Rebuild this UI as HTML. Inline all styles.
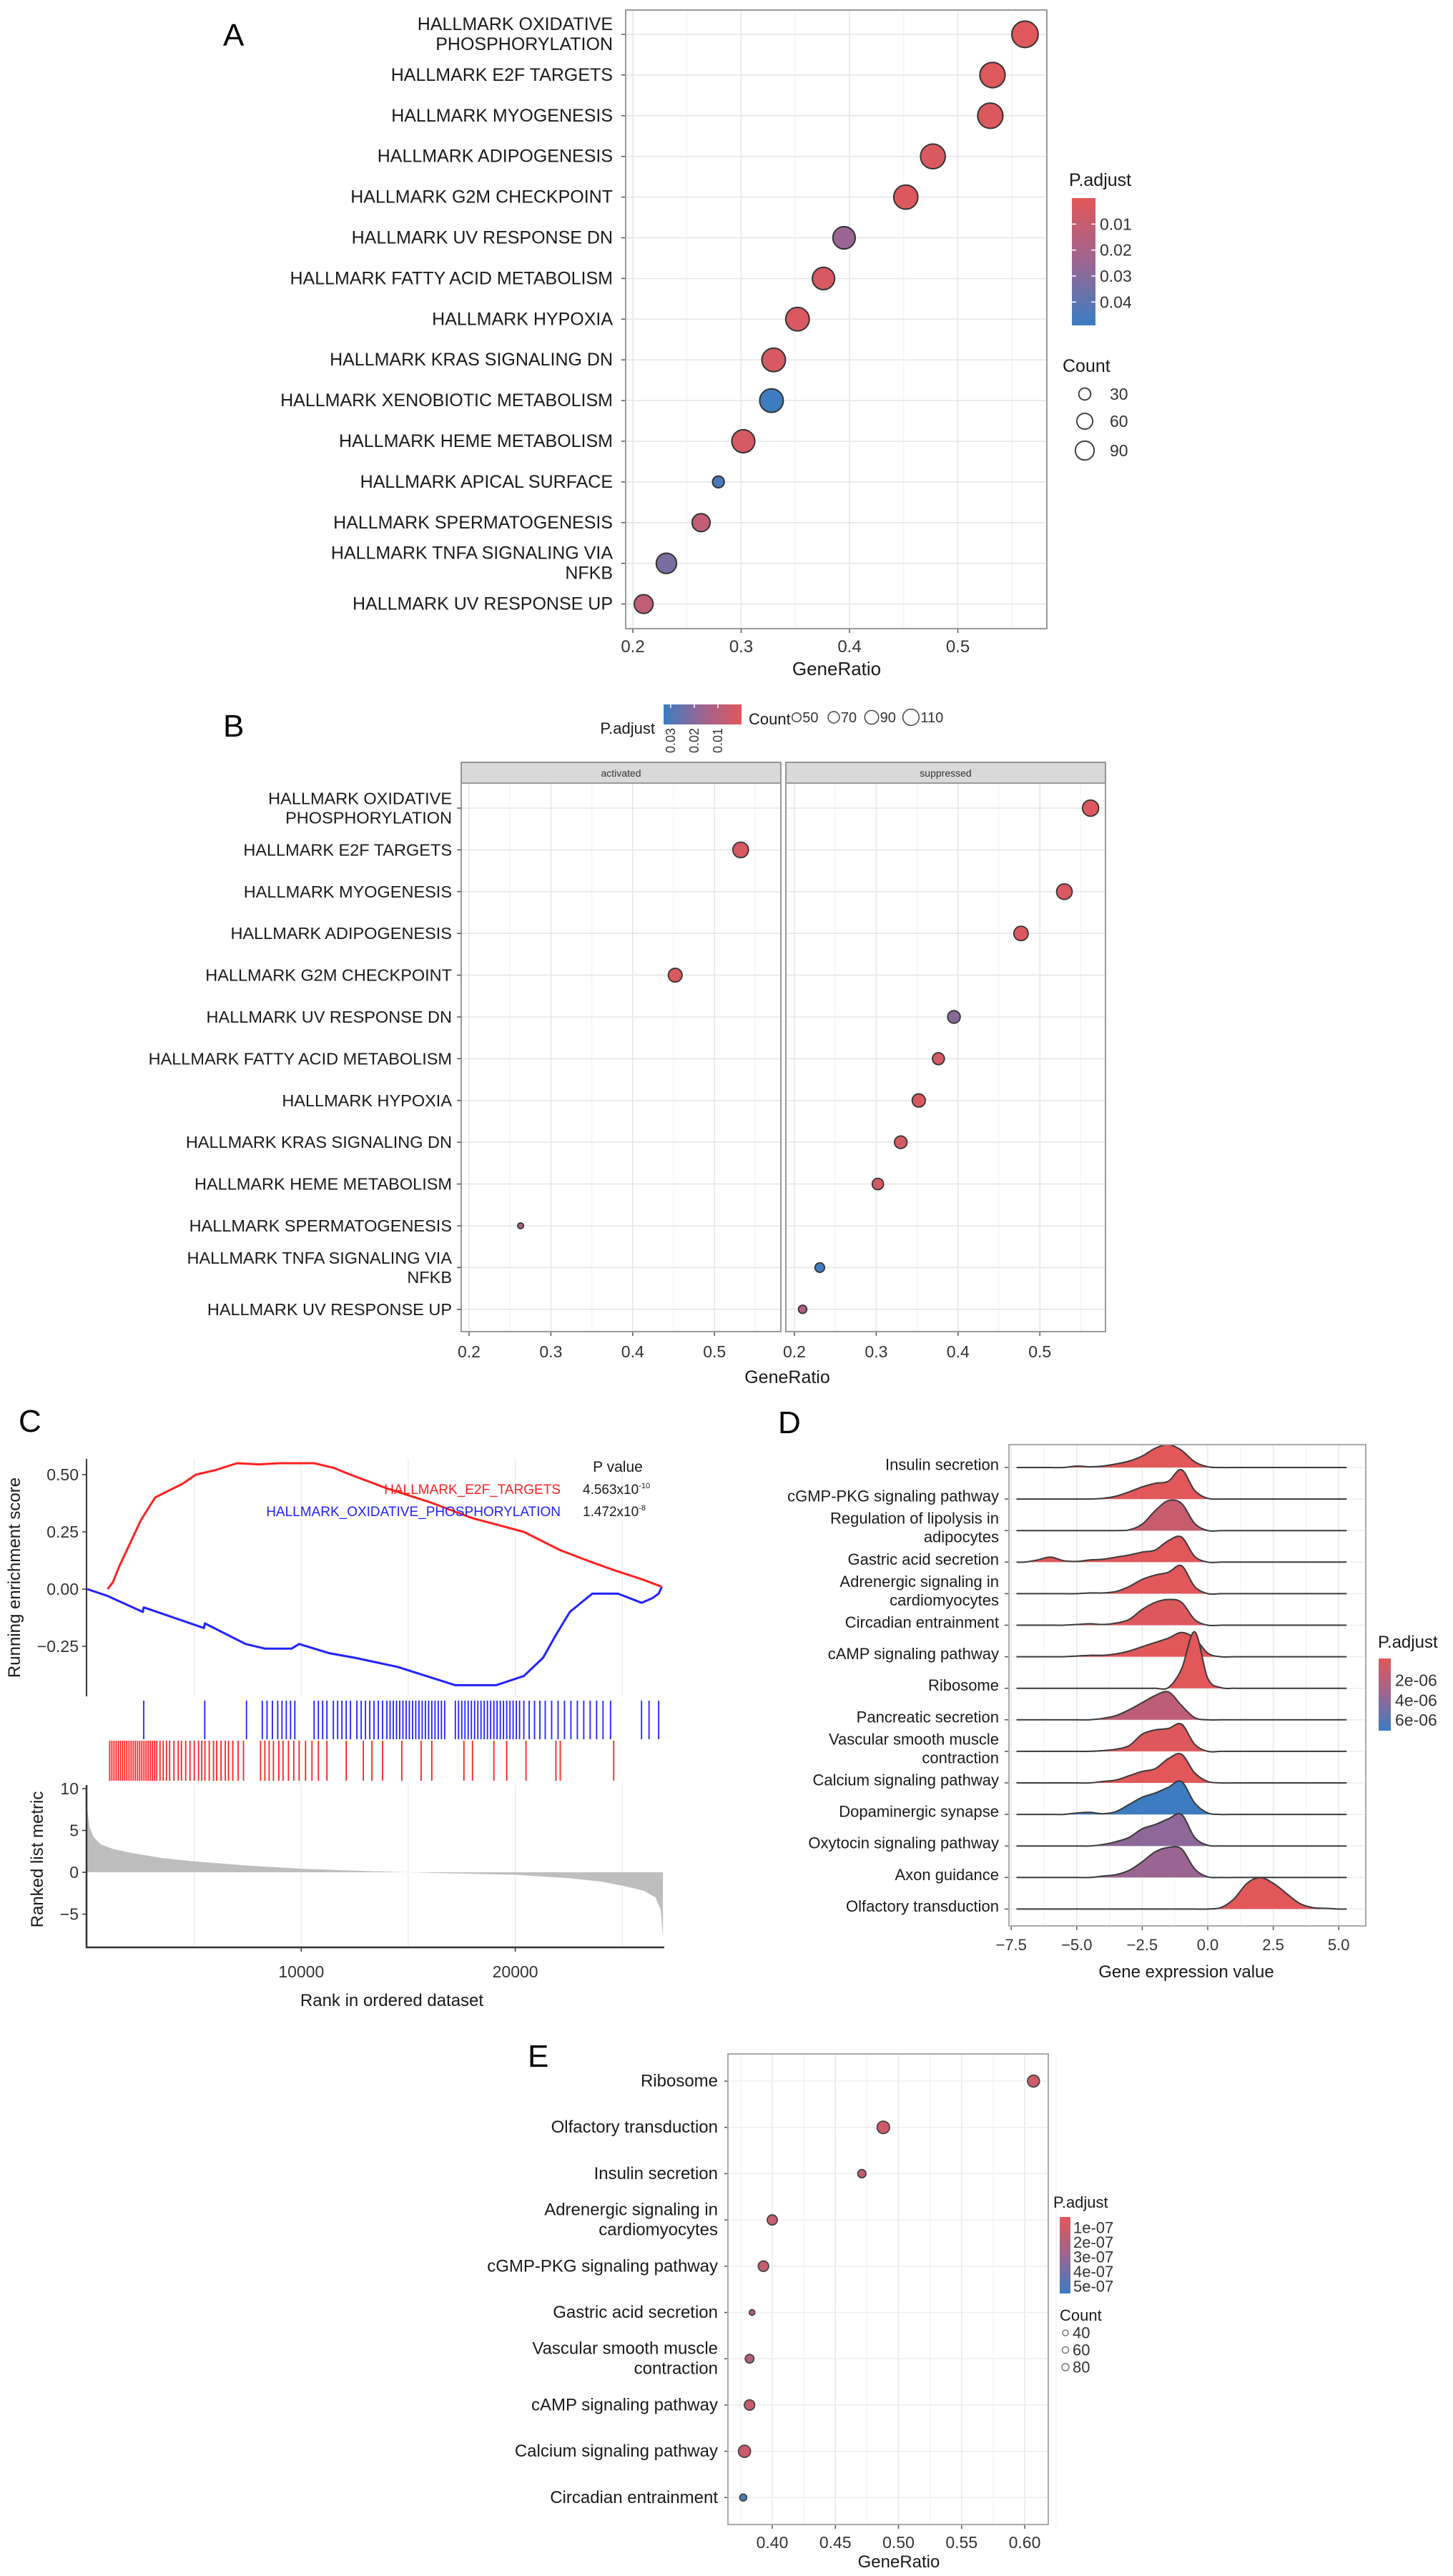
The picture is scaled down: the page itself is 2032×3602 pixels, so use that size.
<!DOCTYPE html>
<html><head><meta charset="utf-8"><title>Enrichment figure</title>
<style>
html,body{margin:0;padding:0;background:#fff;}
svg{display:block;font-family:"Liberation Sans",Arial,sans-serif;}
</style></head>
<body>
<svg id="fig" width="2032" height="3602" viewBox="0 0 2032 3602" xmlns="http://www.w3.org/2000/svg">
<defs>
<linearGradient id="gradV" x1="0" y1="0" x2="0" y2="1"><stop offset="0" stop-color="#E1575A"/><stop offset="0.5" stop-color="#9C6591"/><stop offset="1" stop-color="#3A7DC2"/></linearGradient>
<linearGradient id="gradH" x1="1" y1="0" x2="0" y2="0"><stop offset="0" stop-color="#E1575A"/><stop offset="0.5" stop-color="#9C6591"/><stop offset="1" stop-color="#3A7DC2"/></linearGradient>
</defs>
</svg>
<script>
// ---------- Panel A data ----------
const aTerms = ["HALLMARK OXIDATIVE|PHOSPHORYLATION","HALLMARK E2F TARGETS","HALLMARK MYOGENESIS","HALLMARK ADIPOGENESIS","HALLMARK G2M CHECKPOINT","HALLMARK UV RESPONSE DN","HALLMARK FATTY ACID METABOLISM","HALLMARK HYPOXIA","HALLMARK KRAS SIGNALING DN","HALLMARK XENOBIOTIC METABOLISM","HALLMARK HEME METABOLISM","HALLMARK APICAL SURFACE","HALLMARK SPERMATOGENESIS","HALLMARK TNFA SIGNALING VIA|NFKB","HALLMARK UV RESPONSE UP"];
const aRatio = [0.562,0.532,0.530,0.477,0.452,0.395,0.376,0.352,0.330,0.328,0.302,0.279,0.263,0.231,0.210];
const aCount = [110,100,100,95,90,75,75,85,85,85,80,15,45,60,50];
const aPadj = [0.001,0.001,0.002,0.003,0.002,0.025,0.004,0.003,0.004,0.048,0.004,0.045,0.012,0.033,0.012];
const aTicks = [0.2,0.3,0.4,0.5];
const aPTicks = [0.01,0.02,0.03,0.04];
const aCountLegend = [30,60,90];
// ---------- Panel B data ----------
const bTerms = ["HALLMARK OXIDATIVE|PHOSPHORYLATION","HALLMARK E2F TARGETS","HALLMARK MYOGENESIS","HALLMARK ADIPOGENESIS","HALLMARK G2M CHECKPOINT","HALLMARK UV RESPONSE DN","HALLMARK FATTY ACID METABOLISM","HALLMARK HYPOXIA","HALLMARK KRAS SIGNALING DN","HALLMARK HEME METABOLISM","HALLMARK SPERMATOGENESIS","HALLMARK TNFA SIGNALING VIA|NFKB","HALLMARK UV RESPONSE UP"];
const bGroup = ["suppressed","activated","suppressed","suppressed","activated","suppressed","suppressed","suppressed","suppressed","suppressed","activated","suppressed","suppressed"];
const bRatio = [0.562,0.532,0.530,0.477,0.452,0.395,0.376,0.352,0.330,0.302,0.263,0.231,0.210];
const bCount = [110,105,105,95,90,80,75,85,80,70,25,55,45];
const bPadj = [0.001,0.002,0.002,0.002,0.002,0.020,0.003,0.002,0.003,0.003,0.012,0.032,0.012];
const bTicks = [0.2,0.3,0.4,0.5];
const bPTicks = [0.03,0.02,0.01];
const bCountLegend = [50,70,90,110];
// ---------- Panel C data ----------
const esRedRank = [950,1200,1500,2000,2500,3170,3800,4450,5080,6000,7000,8000,9000,10600,11500,12300,14000,16000,18000,20400,22100,23500,24700,26000,26850];
const esRedVal  = [0,0.03,0.10,0.20,0.30,0.40,0.43,0.46,0.50,0.52,0.55,0.545,0.55,0.55,0.53,0.50,0.44,0.38,0.31,0.25,0.17,0.12,0.08,0.04,0.01];
const esBlueRank = [0,950,2600,2640,5450,5500,7400,8300,9550,9900,11300,12500,14500,17200,19100,20400,21300,21900,22550,23200,23600,24800,25900,26400,26700,26850];
const esBlueVal  = [0,-0.03,-0.10,-0.08,-0.17,-0.15,-0.24,-0.26,-0.26,-0.24,-0.28,-0.30,-0.34,-0.42,-0.42,-0.38,-0.30,-0.20,-0.10,-0.05,-0.02,-0.02,-0.06,-0.04,-0.02,0.01];
const blueHits = [2640,5490,7440,8180,8400,8650,8900,9100,9300,9500,9700,10600,10800,11000,11200,11500,11700,11900,12100,12300,12600,12800,13000,13200,13400,13600,13800,14000,14150,14300,14450,14600,14750,14900,15050,15200,15350,15500,15650,15800,15950,16100,16250,16400,16550,16700,17200,17350,17500,17650,17800,17950,18100,18250,18400,18550,18700,18850,19000,19150,19300,19450,19600,19750,19900,20050,20200,20400,20650,20900,21150,21400,21700,22000,22300,22600,22900,23200,23500,23800,24100,24450,25900,26250,26700];
const redHits = [1050,1150,1250,1350,1450,1550,1650,1750,1850,1950,2050,2150,2250,2350,2450,2550,2650,2750,2850,2950,3050,3150,3250,3400,3550,3700,3850,4050,4250,4400,4600,4800,5000,5200,5350,5500,5700,5900,6050,6250,6450,6600,6800,7050,7300,8100,8300,8500,8700,8950,9150,9400,9650,9900,10200,10500,10800,11200,12100,12900,13300,13800,14700,15600,16100,17600,18000,19000,19600,20500,21900,22100,24600];
const metricRank = [0,100,300,650,1200,2100,3500,5000,7500,10000,12500,15000,17500,20000,22500,24000,25000,26000,26550,26800,26900];
const metricVal  = [7.6,5.5,4.2,3.3,2.8,2.3,1.7,1.3,0.8,0.43,0.2,0,-0.15,-0.3,-0.7,-1.1,-1.6,-2.2,-3,-4.5,-7.9];
const esTicks = [0.50,0.25,0.00,-0.25];
const esTickLabels = ["0.50","0.25","0.00","\u22120.25"];
const metricTicks = [10,5,0,-5];
const metricTickLabels = ["10","5","0","\u22125"];
const rankTicks = [10000,20000];
// ---------- Panel D data ----------
const dTerms = ["Insulin secretion","cGMP-PKG signaling pathway","Regulation of lipolysis in|adipocytes","Gastric acid secretion","Adrenergic signaling in|cardiomyocytes","Circadian entrainment","cAMP signaling pathway","Ribosome","Pancreatic secretion","Vascular smooth muscle|contraction","Calcium signaling pathway","Dopaminergic synapse","Oxytocin signaling pathway","Axon guidance","Olfactory transduction"];
const dPadj = [1e-6,1e-6,2.2e-6,1e-6,1e-6,1.2e-6,1e-6,1e-6,2.6e-6,1.2e-6,1e-6,7.2e-6,4.6e-6,4.2e-6,1e-6];
const dGrid = [-7,-6.5,-6,-5.5,-5,-4.5,-4,-3.5,-3,-2.5,-2,-1.5,-1,-0.5,0,0.5,1,1.5,2,2.5,3,3.5,4,4.5,5];
const dDensity = [
 [0,0,0,0,2,1,2,5,9,16,27,32,24,8,1,0,0,0,0,0,0,0,0,0,0],
 [0,0,0,0,0,0,1,4,10,17,22,25,41,12,1,0,0,0,0,0,0,0,0,0,0],
 [0,0,0,0,0,0,0,0,1,9,28,42,38,10,0,0,0,0,0,0,0,0,0,0,0],
 [0,3,7,2,1,3,4,7,10,14,17,30,35,8,0,0,0,0,0,0,0,0,0,0,0],
 [0,0,0,0,0,1,1,3,10,20,26,30,39,10,0,0,0,0,0,0,0,0,0,0,0],
 [0,0,0,0,1,2,1,3,8,22,32,36,32,8,0,0,0,0,0,0,0,0,0,0,0],
 [0,0,0,0,1,2,2,4,8,14,20,26,34,26,5,0,0,0,0,0,0,0,0,0,0],
 [0,0,0,0,0,0,0,0,0,0,0,1,27,79,14,1,0,0,0,0,0,0,0,0,0],
 [0,0,0,0,0,0,2,6,14,24,34,39,20,3,0,0,0,0,0,0,0,0,0,0,0],
 [0,0,0,0,0,0,1,3,8,24,30,32,38,10,0,0,0,0,0,0,0,0,0,0,0],
 [0,0,0,0,0,0,2,4,10,16,20,34,40,14,2,0,0,0,0,0,0,0,0,0,0],
 [0,0,0,0,2,3,1,4,14,24,30,38,46,16,2,0,0,0,0,0,0,0,0,0,0],
 [0,0,0,0,0,0,2,6,12,24,30,38,44,12,1,0,0,0,0,0,0,0,0,0,0],
 [0,0,0,0,0,0,2,4,10,22,36,42,40,12,1,0,0,0,0,0,0,0,0,0,0],
 [0,0,0,0,0,0,0,0,0,0,0,0,0,0,0,2,14,36,44,36,22,8,2,1,0]
];
const dTicks = [-7.5,-5.0,-2.5,0.0,2.5,5.0];
const dTickLabels = ["\u22127.5","\u22125.0","\u22122.5","0.0","2.5","5.0"];
const dPTicks = [2e-6,4e-6,6e-6];
const dPTickLabels = ["2e-06","4e-06","6e-06"];
// ---------- Panel E data ----------
const eTerms = ["Ribosome","Olfactory transduction","Insulin secretion","Adrenergic signaling in|cardiomyocytes","cGMP-PKG signaling pathway","Gastric acid secretion","Vascular smooth muscle|contraction","cAMP signaling pathway","Calcium signaling pathway","Circadian entrainment"];
const eRatio = [0.607,0.488,0.471,0.400,0.393,0.384,0.382,0.382,0.378,0.377];
const eCount = [76,79,52,64,66,36,55,66,77,45];
const ePadj = [1e-7,1e-7,1.2e-7,1.3e-7,1.3e-7,2e-7,1.8e-7,1.2e-7,1.1e-7,5.2e-7];
const eTicks = [0.40,0.45,0.50,0.55,0.60];
const eTickLabels = ["0.40","0.45","0.50","0.55","0.60"];
const ePTicks = [1e-7,2e-7,3e-7,4e-7,5e-7];
const ePTickLabels = ["1e-07","2e-07","3e-07","4e-07","5e-07"];
const eCountLegend = [40,60,80];

// ---------- helpers ----------
const NS='http://www.w3.org/2000/svg';
const svg=document.getElementById('fig');
function mk(tag,attrs,parent){const e=document.createElementNS(NS,tag);for(const k in attrs)e.setAttribute(k,attrs[k]);(parent||svg).appendChild(e);return e;}
function txt(str,attrs,parent){const e=mk('text',attrs,parent);e.textContent=str;return e;}
function grp(){return mk('g',{});}
const RED=[225,87,90],MID=[156,101,145],BLUE=[58,125,194];
function pcol(t){t=Math.max(0,Math.min(1,t));let a,b,u;if(t<0.5){a=RED;b=MID;u=t/0.5;}else{a=MID;b=BLUE;u=(t-0.5)/0.5;}
 return 'rgb('+a.map((v,i)=>Math.round(v+(b[i]-v)*u)).join(',')+')';}
function smoothPath(pts){let d='M'+pts[0][0]+','+pts[0][1];
 for(let i=0;i<pts.length-1;i++){const p0=pts[Math.max(0,i-1)],p1=pts[i],p2=pts[i+1],p3=pts[Math.min(pts.length-1,i+2)];
  const c1=[p1[0]+(p2[0]-p0[0])/6,p1[1]+(p2[1]-p0[1])/6],c2=[p2[0]-(p3[0]-p1[0])/6,p2[1]-(p3[1]-p1[1])/6];
  d+=' C'+c1[0].toFixed(1)+','+c1[1].toFixed(1)+' '+c2[0].toFixed(1)+','+c2[1].toFixed(1)+' '+p2[0].toFixed(1)+','+p2[1].toFixed(1);}
 return d;}
function multiLabel(g,str,x,y,size,lh,name){const parts=str.split('|');const y0=y-(parts.length-1)*lh/2;
 parts.forEach((p,j)=>{const t=txt(p,{x:x,y:y0+j*lh,'font-size':size,'text-anchor':'end','dominant-baseline':'central',fill:'#1a1a1a'},g);
 
 });}

// ================= PANEL A =================
(function(){
const g=grp();


const L=875,T=14,R=1464,B=879;
const xA=v=>885+(v-0.2)*1515;
const yA=i=>48+i*56.9;
const lab=txt('A',{x:312,y:64,'font-size':44,fill:'#000'},g);


const bg=mk('rect',{x:L,y:T,width:R-L,height:B-T,fill:'#fff'},g);


for(let v=0.25;v<0.6;v+=0.1){const l=mk('line',{x1:xA(v),x2:xA(v),y1:T,y2:B,stroke:'#F3F3F3','stroke-width':1.2},g);

}
aTicks.forEach(v=>{const l=mk('line',{x1:xA(v),x2:xA(v),y1:T,y2:B,stroke:'#E6E6E6','stroke-width':1.6},g);


const t=txt(v.toFixed(1),{x:xA(v),y:912,'font-size':24,'text-anchor':'middle',fill:'#333'},g);


mk('line',{x1:xA(v),x2:xA(v),y1:B,y2:B+6,stroke:'#555','stroke-width':1.5},g);});
aTerms.forEach((term,i)=>{const y=yA(i);
const l=mk('line',{x1:L,x2:R,y1:y,y2:y,stroke:'#E6E6E6','stroke-width':1.6},g);


mk('line',{x1:L-6,x2:L,y1:y,y2:y,stroke:'#555','stroke-width':1.5},g);
multiLabel(g,term,857,y,25,28,'y-axis-term-label');});
mk('rect',{x:L,y:T,width:R-L,height:B-T,fill:'none',stroke:'#999','stroke-width':2},g);
aTerms.forEach((term,i)=>{const c=mk('circle',{cx:xA(aRatio[i]),cy:yA(i),r:2.2+1.55*Math.sqrt(aCount[i]),fill:pcol(aPadj[i]/0.049),stroke:'#333','stroke-width':2},g);

});
const xt=txt('GeneRatio',{x:1170,y:944,'font-size':26,'text-anchor':'middle',fill:'#1a1a1a'},g);


const lt=txt('P.adjust',{x:1495,y:260,'font-size':25,fill:'#1a1a1a'},g);


const cb=mk('rect',{x:1499,y:277,width:33,height:178,fill:'url(#gradV)'},g);


aPTicks.forEach(p=>{const y=277+p/0.049*178;
mk('line',{x1:1499,x2:1505,y1:y,y2:y,stroke:'#fff','stroke-width':1.5},g);
mk('line',{x1:1526,x2:1532,y1:y,y2:y,stroke:'#fff','stroke-width':1.5},g);
const t=txt(p.toFixed(2),{x:1538,y:y,'font-size':23,'dominant-baseline':'central',fill:'#333'},g);

});
const ct=txt('Count',{x:1486,y:520,'font-size':25,fill:'#1a1a1a'},g);


aCountLegend.forEach((c,j)=>{const y=[551,589,630][j];
const k=mk('circle',{cx:1517,cy:y,r:(2.2+1.55*Math.sqrt(c))*0.78,fill:'none',stroke:'#333','stroke-width':1.8},g);


const t=txt(String(c),{x:1552,y:y,'font-size':23,'dominant-baseline':'central',fill:'#333'},g);

});
})();

// ================= PANEL B =================
(function(){
const g=grp();


const T=1095,B=1862;
const panels={activated:{L:645,R:1092,x0:656},suppressed:{L:1099,R:1546,x0:1111}};
const yB=i=>1130+i*58.4;
const lab=txt('B',{x:312,y:1030,'font-size':44,fill:'#000'},g);


const pl=txt('P.adjust',{x:916,y:1026,'font-size':22,'text-anchor':'end',fill:'#1a1a1a'},g);


const cb=mk('rect',{x:928,y:985,width:109,height:28,fill:'url(#gradH)'},g);


bPTicks.forEach(p=>{const x=1037-p/0.033*109;
mk('line',{x1:x,x2:x,y1:985,y2:990,stroke:'#fff','stroke-width':1.5},g);
const t=txt(p.toFixed(2),{x:0,y:0,'font-size':18,'text-anchor':'end','dominant-baseline':'central',fill:'#333',transform:'translate('+x+',1018) rotate(-90)'},g);

});
const ct=txt('Count',{x:1047,y:1013,'font-size':22,fill:'#1a1a1a'},g);


bCountLegend.forEach((c,j)=>{const x=[1114,1166,1219,1274][j];const r=2+0.085*c;
const k=mk('circle',{cx:x,cy:1003,r:r,fill:'none',stroke:'#444','stroke-width':1.5},g);


const t=txt(String(c),{x:x+r+2,y:1004,'font-size':20,'dominant-baseline':'central',fill:'#333'},g);

});
Object.keys(panels).forEach(key=>{const P=panels[key];const xB=v=>P.x0+(v-0.2)*1144;
const st=mk('rect',{x:P.L,y:1066,width:P.R-P.L,height:29,fill:'#D9D9D9',stroke:'#777','stroke-width':1.5},g);


const sl=txt(key,{x:(P.L+P.R)/2,y:1081,'font-size':14,'text-anchor':'middle','dominant-baseline':'central',fill:'#333'},g);


for(let v=0.25;v<0.6;v+=0.1){const l=mk('line',{x1:xB(v),x2:xB(v),y1:T,y2:B,stroke:'#F3F3F3','stroke-width':1.2},g);

}
bTicks.forEach(v=>{const l=mk('line',{x1:xB(v),x2:xB(v),y1:T,y2:B,stroke:'#E6E6E6','stroke-width':1.6},g);


mk('line',{x1:xB(v),x2:xB(v),y1:B,y2:B+6,stroke:'#555','stroke-width':1.5},g);
const t=txt(v.toFixed(1),{x:xB(v),y:1898,'font-size':23,'text-anchor':'middle',fill:'#333'},g);

});
bTerms.forEach((term,i)=>{const l=mk('line',{x1:P.L,x2:P.R,y1:yB(i),y2:yB(i),stroke:'#E6E6E6','stroke-width':1.6},g);

});
mk('rect',{x:P.L,y:T,width:P.R-P.L,height:B-T,fill:'none',stroke:'#999','stroke-width':2},g);
bTerms.forEach((term,i)=>{if(bGroup[i]!==key)return;
const c=mk('circle',{cx:xB(bRatio[i]),cy:yB(i),r:2+0.085*bCount[i],fill:pcol(bPadj[i]/0.033),stroke:'#333','stroke-width':1.8},g);

});});
bTerms.forEach((term,i)=>{mk('line',{x1:639,x2:645,y1:yB(i),y2:yB(i),stroke:'#555','stroke-width':1.5},g);
multiLabel(g,term,632,yB(i),23.5,27,'y-axis-term-label');});
const xt=txt('GeneRatio',{x:1101,y:1934,'font-size':25,'text-anchor':'middle',fill:'#1a1a1a'},g);


})();

// ================= PANEL C =================
(function(){
const g=grp();


const L=121,R=929;
const xr=r=>122+r*0.02993;
const ye=v=>2222-v*320;
const ym=v=>2618-v*11.7;
const lab=txt('C',{x:26,y:2002,'font-size':44,fill:'#000'},g);


[5000,10000,15000,20000,25000].forEach(r=>{
const l1=mk('line',{x1:xr(r),x2:xr(r),y1:2040,y2:2372,stroke:'#EBEBEB','stroke-width':1.4},g);


const l2=mk('line',{x1:xr(r),x2:xr(r),y1:2496,y2:2723,stroke:'#EBEBEB','stroke-width':1.4},g);

});
const ax=mk('line',{x1:L,x2:L,y1:2040,y2:2372,stroke:'#333','stroke-width':2},g);


esTicks.forEach((v,j)=>{mk('line',{x1:L-6,x2:L,y1:ye(v),y2:ye(v),stroke:'#333','stroke-width':1.5},g);
const t=txt(esTickLabels[j],{x:110,y:ye(v),'font-size':23,'text-anchor':'end','dominant-baseline':'central',fill:'#333'},g);

});
const yt=txt('Running enrichment score',{x:0,y:0,'font-size':24,'text-anchor':'middle',fill:'#1a1a1a',transform:'translate(28,2206) rotate(-90)'},g);


function line(rs,vs,color,name){const p=mk('polyline',{points:rs.map((r,i)=>xr(r).toFixed(1)+','+ye(vs[i]).toFixed(1)).join(' '),fill:'none',stroke:color,'stroke-width':3,'stroke-linejoin':'round'},g);

}
line(esBlueRank,esBlueVal,'#2222FF','es-line-oxidative-phosphorylation');
line(esRedRank,esRedVal,'#FF2020','es-line-e2f-targets');
const pv=txt('P value',{x:864,y:2058,'font-size':21,'text-anchor':'middle',fill:'#1a1a1a'},g);


const r1=txt('HALLMARK_E2F_TARGETS',{x:784,y:2089,'font-size':19,'text-anchor':'end',fill:'#FF2020'},g);


const r2=txt('HALLMARK_OXIDATIVE_PHOSPHORYLATION',{x:784,y:2120,'font-size':19,'text-anchor':'end',fill:'#2222FF'},g);


const p1=txt('',{x:815,y:2089,'font-size':19,fill:'#1a1a1a'},g);p1.textContent='4.563x10';


const s1=mk('tspan',{dy:-8,'font-size':11},p1);s1.textContent='-10';
const p2=txt('',{x:815,y:2120,'font-size':19,fill:'#1a1a1a'},g);p2.textContent='1.472x10';


const s2=mk('tspan',{dy:-8,'font-size':11},p2);s2.textContent='-8';
const rug=mk('g',{},g);


blueHits.forEach(r=>{const l=mk('line',{x1:xr(r),x2:xr(r),y1:2378,y2:2432,stroke:'#2222FF','stroke-width':1.8},rug);

});
redHits.forEach(r=>{const l=mk('line',{x1:xr(r),x2:xr(r),y1:2434,y2:2490,stroke:'#FF2020','stroke-width':1.8},rug);

});
let d='M'+xr(metricRank[0])+','+ym(0);
metricRank.forEach((r,i)=>{d+=' L'+xr(r).toFixed(1)+','+ym(metricVal[i]).toFixed(1);});
d+=' L'+xr(metricRank[metricRank.length-1]).toFixed(1)+','+ym(0)+' Z';
const ar=mk('path',{d:d,fill:'#BEBEBE',stroke:'none'},g);


const ax2=mk('path',{d:'M'+L+',2496 L'+L+',2723 L'+R+',2723',fill:'none',stroke:'#333','stroke-width':2.5},g);


metricTicks.forEach((v,j)=>{mk('line',{x1:L-6,x2:L,y1:ym(v),y2:ym(v),stroke:'#333','stroke-width':1.5},g);
const t=txt(metricTickLabels[j],{x:110,y:ym(v),'font-size':23,'text-anchor':'end','dominant-baseline':'central',fill:'#333'},g);

});
rankTicks.forEach(r=>{mk('line',{x1:xr(r),x2:xr(r),y1:2723,y2:2729,stroke:'#333','stroke-width':1.5},g);
const t=txt(String(r),{x:xr(r),y:2765,'font-size':23,'text-anchor':'middle',fill:'#333'},g);

});
const mt=txt('Ranked list metric',{x:0,y:0,'font-size':24,'text-anchor':'middle',fill:'#1a1a1a',transform:'translate(60,2600) rotate(-90)'},g);


const xt=txt('Rank in ordered dataset',{x:548,y:2805,'font-size':24,'text-anchor':'middle',fill:'#1a1a1a'},g);


})();

// ================= PANEL D =================
(function(){
const g=grp();


const L=1411,T=2020,R=1910,B=2693;
const xd=v=>1689+v*36.64;
const yd=i=>2052+i*44.1;
const lab=txt('D',{x:1088,y:2004,'font-size':44,fill:'#000'},g);


for(let v=-6.25;v<5.5;v+=2.5){const l=mk('line',{x1:xd(v),x2:xd(v),y1:T,y2:B,stroke:'#F3F3F3','stroke-width':1.2},g);

}
dTicks.forEach((v,j)=>{const l=mk('line',{x1:xd(v),x2:xd(v),y1:T,y2:B,stroke:'#E8E8E8','stroke-width':1.5},g);


mk('line',{x1:xd(v),x2:xd(v),y1:B,y2:B+6,stroke:'#555','stroke-width':1.5},g);
const t=txt(dTickLabels[j],{x:xd(v),y:2727,'font-size':22,'text-anchor':'middle',fill:'#333'},g);

});
dTerms.forEach((term,i)=>{const y=yd(i);
const l=mk('line',{x1:L,x2:R,y1:y,y2:y,stroke:'#EEEEEE','stroke-width':1.5},g);


mk('line',{x1:L-6,x2:L,y1:y,y2:y,stroke:'#555','stroke-width':1.5},g);
multiLabel(g,term,1397,y-4,22,26,'y-axis-term-label');});
dTerms.forEach((term,i)=>{const y=yd(i);
const pts=[[xd(-7.3),y]];dGrid.forEach((gx,k)=>pts.push([xd(gx),y-dDensity[i][k]]));pts.push([xd(5.3),y]);
const curve=smoothPath(pts);
const f=mk('path',{d:curve+' L'+xd(5.3)+','+y+' L'+xd(-7.3)+','+y+' Z',fill:pcol((dPadj[i]-1e-6)/6.3e-6),stroke:'none'},g);


const o=mk('path',{d:curve,fill:'none',stroke:'#3a3a3a','stroke-width':2},g);

});
mk('rect',{x:L,y:T,width:R-L,height:B-T,fill:'none',stroke:'#AAA','stroke-width':2},g);
const xt=txt('Gene expression value',{x:1659,y:2765,'font-size':24,'text-anchor':'middle',fill:'#1a1a1a'},g);


const lt=txt('P.adjust',{x:1927,y:2304,'font-size':24,fill:'#1a1a1a'},g);


const cb=mk('rect',{x:1928,y:2319,width:17,height:101,fill:'url(#gradV)'},g);


dPTicks.forEach((p,j)=>{const y=2319+p/7.3e-6*101;
const t=txt(dPTickLabels[j],{x:1951,y:y+3,'font-size':23,'dominant-baseline':'central',fill:'#333'},g);

});
})();

// ================= PANEL E =================
(function(){
const g=grp();


const L=1018,T=2872,R=1466,B=3530;
const xE=v=>1080+(v-0.4)*1765;
const yE=i=>2910+i*64.7;
const lab=txt('E',{x:738,y:2890,'font-size':44,fill:'#000'},g);


for(let v=0.375;v<0.63;v+=0.05){const l=mk('line',{x1:xE(v),x2:xE(v),y1:T,y2:B,stroke:'#F3F3F3','stroke-width':1.2},g);

}
eTicks.forEach((v,j)=>{const l=mk('line',{x1:xE(v),x2:xE(v),y1:T,y2:B,stroke:'#E8E8E8','stroke-width':1.5},g);


mk('line',{x1:xE(v),x2:xE(v),y1:B,y2:B+6,stroke:'#555','stroke-width':1.5},g);
const t=txt(eTickLabels[j],{x:xE(v),y:3563,'font-size':23,'text-anchor':'middle',fill:'#333'},g);

});
eTerms.forEach((term,i)=>{const y=yE(i);
const l=mk('line',{x1:L,x2:R,y1:y,y2:y,stroke:'#EEEEEE','stroke-width':1.5},g);


mk('line',{x1:L-5,x2:L,y1:y,y2:y,stroke:'#555','stroke-width':1.5},g);
multiLabel(g,term,1004,y,24,28,'y-axis-term-label');});
mk('rect',{x:L,y:T,width:R-L,height:B-T,fill:'none',stroke:'#AAA','stroke-width':2},g);
eTerms.forEach((term,i)=>{const c=mk('circle',{cx:xE(eRatio[i]),cy:yE(i),r:0.11*eCount[i],fill:pcol((ePadj[i]-0.26e-7)/(5.5e-7-0.26e-7)),stroke:'#444','stroke-width':1.8},g);

});
const xt=txt('GeneRatio',{x:1257,y:3590,'font-size':24,'text-anchor':'middle',fill:'#1a1a1a'},g);


const lt=txt('P.adjust',{x:1473,y:3087,'font-size':22,fill:'#1a1a1a'},g);


const cb=mk('rect',{x:1482,y:3100,width:15,height:107,fill:'url(#gradV)'},g);


ePTicks.forEach((p,j)=>{const y=3100+(p-0.26e-7)/(5.5e-7-0.26e-7)*107;
const t=txt(ePTickLabels[j],{x:1501,y:y,'font-size':22,'dominant-baseline':'central',fill:'#333'},g);

});
const ct=txt('Count',{x:1482,y:3245,'font-size':22,fill:'#1a1a1a'},g);


eCountLegend.forEach((c,j)=>{const y=3262+j*24;
const k=mk('circle',{cx:1490,cy:y,r:3+c/40,fill:'none',stroke:'#777','stroke-width':1.5},g);


const t=txt(String(c),{x:1500,y:y,'font-size':22,'dominant-baseline':'central',fill:'#333'},g);

});
})();
</script>
</body></html>
